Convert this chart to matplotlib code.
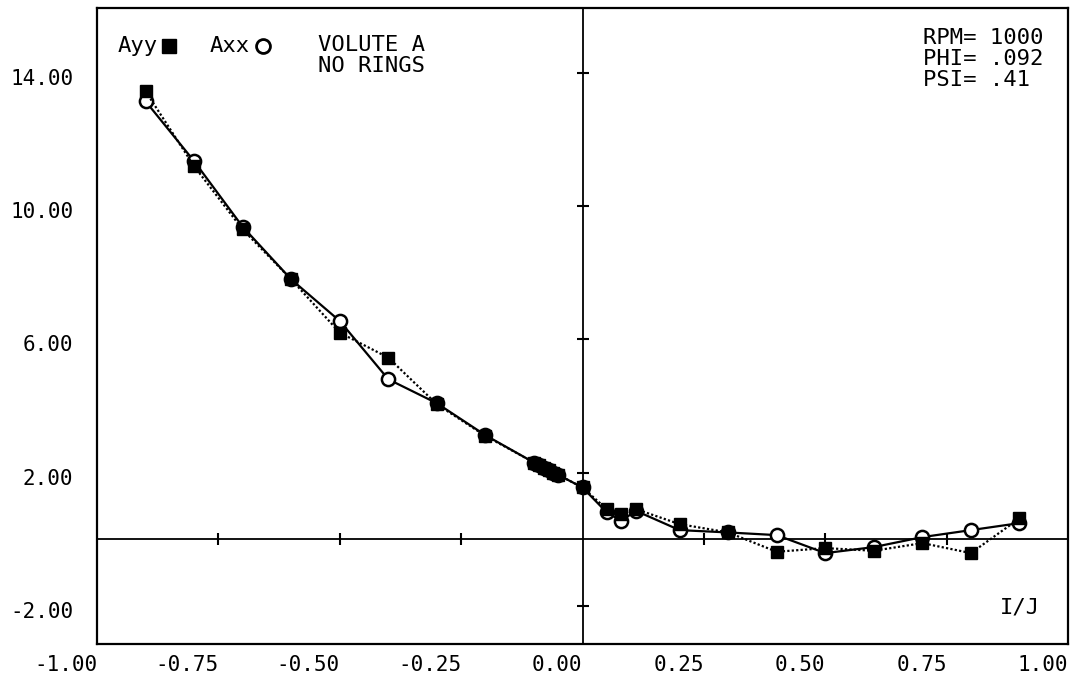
import numpy as np
import matplotlib
matplotlib.use("Agg")
import matplotlib.pyplot as plt
import matplotlib.transforms as mtransforms

plt.rcParams['font.family'] = ['DejaVu Sans Mono', 'DejaVu Sans']

# whirl ratio I/J and the two force coefficients
x_yy = [-0.9, -0.8, -0.7, -0.6, -0.5, -0.4, -0.3, -0.2,
        -0.1, -0.09, -0.08, -0.07, -0.06, -0.05, 0.0,
        0.05, 0.08, 0.11, 0.2, 0.3, 0.4, 0.5, 0.6, 0.7, 0.8, 0.9]
a_yy = [13.45, 11.2, 9.3, 7.8, 6.2, 5.45, 4.05, 3.1,
        2.3, 2.22, 2.14, 2.07, 2.0, 1.93, 1.55,
        0.9, 0.75, 0.9, 0.45, 0.2, -0.38, -0.27, -0.35, -0.12, -0.42, 0.62]

x_xx = [-0.9, -0.8, -0.7, -0.6, -0.5, -0.4, -0.3, -0.2,
        -0.1, -0.09, -0.08, -0.07, -0.06, -0.05, 0.0,
        0.05, 0.08, 0.11, 0.2, 0.3, 0.4, 0.5, 0.6, 0.7, 0.8, 0.9]
a_xx = [13.15, 11.35, 9.38, 7.8, 6.55, 4.8, 4.08, 3.12,
        2.3, 2.22, 2.14, 2.07, 2.0, 1.93, 1.55,
        0.8, 0.55, 0.85, 0.27, 0.2, 0.12, -0.42, -0.24, 0.06, 0.27, 0.48]

xticks = [-1.0, -0.75, -0.5, -0.25, 0.0, 0.25, 0.5, 0.75, 1.0]
yticks = [-2.0, 2.0, 6.0, 10.0, 14.0]

fig = plt.figure(figsize=(10.75, 6.83), dpi=100)
ax = fig.add_axes([97/1075, 39/683, 971/1075, 636/683])
ax.set_xlim(-1.0, 1.0)
ax.set_ylim(-3.15, 15.95)

for s in ax.spines.values():
    s.set_linewidth(1.6)

# centre axes through the origin, with their own small ticks
ax.axhline(0, color='black', lw=1.3, zorder=1)
ax.axvline(0, color='black', lw=1.3, zorder=1)
xt_in = [t for t in xticks if t not in (-1.0, 0.0, 1.0)]
ax.plot(xt_in, [0]*len(xt_in), ls='none', marker='|', ms=9, mew=1.5, color='black')
ax.plot([0]*len(yticks), yticks, ls='none', marker='_', ms=9, mew=1.5, color='black')

# data: open circles under the filled squares
ax.plot(x_xx, a_xx, color='black', lw=1.6, ls='-',
        marker='o', ms=9.5, mfc='white', mec='black', mew=1.8, zorder=3)
ax.plot(x_yy, a_yy, color='black', lw=1.6, ls=(0, (1, 1)),
        marker='s', ms=8.5, mfc='black', mec='black', zorder=4)

ax.set_xticks(xticks)
ax.set_xticklabels(["%.2f" % t for t in xticks])
ax.set_yticks(yticks)
ax.set_yticklabels(["%.2f" % t for t in yticks])
ax.tick_params(length=0, labelsize=15)
ax.tick_params(axis='y', pad=17)
ax.tick_params(axis='x', pad=8)
for lab in ax.get_xticklabels():
    lab.set_ha('right')
shift = mtransforms.ScaledTranslation(0, -4/100, fig.dpi_scale_trans)
for lab in ax.get_yticklabels():
    lab.set_transform(lab.get_transform() + shift)

# legend and annotations
fs = 16
ax.text(0.021, 0.940, "Ayy", transform=ax.transAxes, fontsize=fs, va='center')
ax.plot([0.074], [0.940], transform=ax.transAxes, marker='s', ms=10,
        color='black', clip_on=False)
ax.text(0.116, 0.940, "Axx", transform=ax.transAxes, fontsize=fs, va='center')
ax.plot([0.171], [0.940], transform=ax.transAxes, marker='o', ms=10,
        mfc='white', mec='black', mew=2, clip_on=False)
ax.text(0.228, 0.958, "VOLUTE A\nNO RINGS", transform=ax.transAxes,
        fontsize=fs, va='top', linespacing=1.05)
ax.text(0.851, 0.968, "RPM= 1000\nPHI= .092\nPSI= .41", transform=ax.transAxes,
        fontsize=fs, va='top', linespacing=1.05)
ax.text(0.971, 0.058, "I/J", transform=ax.transAxes, fontsize=fs,
        ha='right', va='center')

fig.savefig("out.png", dpi=100)
